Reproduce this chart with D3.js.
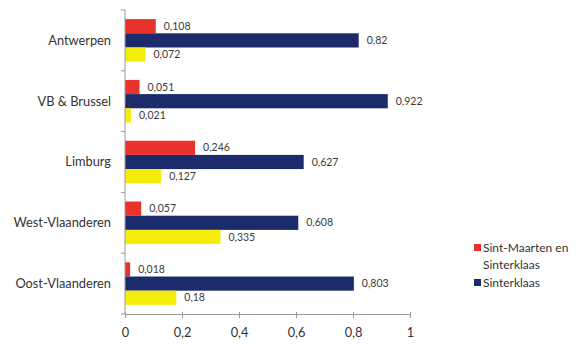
<!DOCTYPE html>
<html>
<head>
<meta charset="utf-8">
<script src="https://cdn.jsdelivr.net/npm/d3@7"></script>
<style>
  html, body { margin: 0; padding: 0; background: #fff; }
  svg { display: block; font-family: Lato, "Open Sans", sans-serif; }
</style>
</head>
<body>
<svg id="chart" width="581" height="345"></svg>
<script>
const categories = ["Antwerpen", "VB & Brussel", "Limburg", "West-Vlaanderen", "Oost-Vlaanderen"];
const seriesNames = ["Sint-Maarten en Sinterklaas", "Sinterklaas", "Sint-Maarten"];
const sintMaartenEnSinterklaas = [0.108, 0.051, 0.246, 0.057, 0.018];
const sinterklaas = [0.82, 0.922, 0.627, 0.608, 0.803];
const sintMaarten = [0.072, 0.021, 0.127, 0.335, 0.18];
const xTicks = [0, 0.2, 0.4, 0.6, 0.8, 1];
const colors = ["#e8322b", "#1b2b6b", "#f4ec0d"];
const legendShown = [0, 1];

const seriesValues = [sintMaartenEnSinterklaas, sinterklaas, sintMaarten];
const svg = d3.select("#chart");
const margin = { left: 125, top: 10, right: 171, bottom: 31 };
const W = 581, H = 345;

const x = d3.scaleLinear().domain([0, 1]).range([margin.left, W - margin.right]);
const y = d3.scaleBand().domain(categories).range([margin.top, H - margin.bottom]).paddingInner(0.3).paddingOuter(0.15);
const ySub = d3.scaleBand().domain(d3.range(seriesValues.length)).range([0, y.bandwidth()]);
const fmt = v => String(v).replace(".", ",");

// bars
seriesValues.forEach((vals, s) => {
  const g = svg.append("g");
  g.selectAll("rect").data(vals).enter().append("rect")
    .attr("x", x(0))
    .attr("y", (d, i) => y(categories[i]) + ySub(s))
    .attr("width", d => x(d) - x(0))
    .attr("height", ySub.bandwidth())
    .attr("fill", colors[s]);
  g.selectAll("text").data(vals).enter().append("text")
    .attr("x", d => x(d) + 8)
    .attr("y", (d, i) => y(categories[i]) + ySub(s) + ySub.bandwidth() / 2)
    .attr("dy", "0.35em")
    .attr("font-size", 10.5)
    .attr("fill", "#3a3a3a")
    .text(d => fmt(d));
});

// y axis with category separators
const yAxisG = svg.append("g");
const bandStep = (H - margin.bottom - margin.top) / categories.length;
yAxisG.append("line").attr("x1", x(0)).attr("x2", x(0))
  .attr("y1", margin.top).attr("y2", H - margin.bottom).attr("stroke", "#9a9a9a");
d3.range(categories.length + 1).forEach(i => {
  const yy = margin.top + i * bandStep;
  yAxisG.append("line").attr("x1", x(0) - 4).attr("x2", x(0))
    .attr("y1", yy).attr("y2", yy).attr("stroke", "#9a9a9a");
});
categories.forEach((c, i) => {
  yAxisG.append("text").attr("x", x(0) - 14)
    .attr("y", margin.top + (i + 0.5) * bandStep).attr("dy", "0.35em")
    .attr("text-anchor", "end").attr("font-size", 12.8).attr("fill", "#333")
    .text(c);
});

// x axis
const xAxis = d3.axisBottom(x).tickValues(xTicks).tickSize(4).tickSizeOuter(0).tickFormat(fmt);
const xg = svg.append("g").attr("transform", `translate(0,${H - margin.bottom})`).call(xAxis);
xg.select(".domain").attr("stroke", "#9a9a9a");
xg.selectAll(".tick line").attr("stroke", "#9a9a9a").attr("y1", -2);
xg.selectAll(".tick text").attr("font-size", 12.8).attr("fill", "#333").attr("font-family", "Lato, sans-serif").attr("y", 14);

// legend
const lg = svg.append("g").attr("transform", "translate(474,242)");
const legendRows = [["Sint-Maarten en", "Sinterklaas"], ["Sinterklaas"]];
let ly = 0;
legendShown.forEach((s, k) => {
  lg.append("rect").attr("x", 0).attr("y", ly + 2).attr("width", 7).attr("height", 7).attr("fill", colors[s]);
  legendRows[k].forEach((t, j) => {
    lg.append("text").attr("x", 9).attr("y", ly + 6 + j * 17).attr("dy", "0.35em")
      .attr("font-size", 12).attr("fill", "#333").text(t);
  });
  ly += legendRows[k].length * 17 + 1;
});
</script>
</body>
</html>
